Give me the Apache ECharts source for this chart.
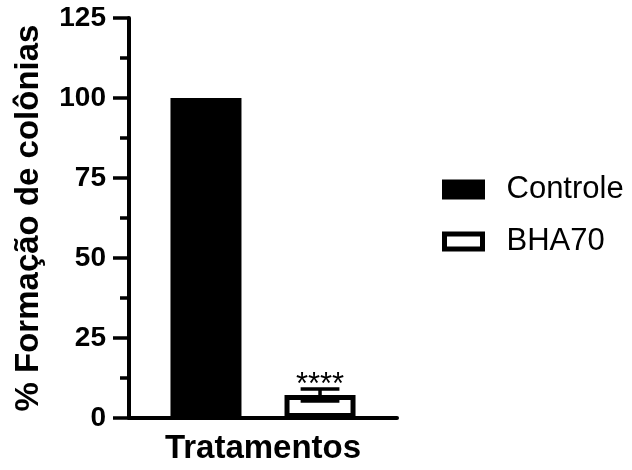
<!DOCTYPE html>
<html>
<head>
<meta charset="utf-8">
<script src="https://cdn.jsdelivr.net/npm/echarts@6/dist/echarts.min.js"></script>
<style>html,body{margin:0;padding:0;background:#fff;}#c{width:632px;height:470px;}</style>
</head>
<body>
<div id="c"></div>
<script>
// Data
var categories = ['Controle', 'BHA70'];
var means = [100, 7.2];
var errors = [0, 1.9];
var significance = ['', '****'];
var yTicks = [0, 25, 50, 75, 100, 125];
var yTitle = '% Formação de colônias';
var xTitle = 'Tratamentos';

var chart = echarts.init(document.getElementById('c'));
var fontFam = 'Liberation Sans, Arial, sans-serif';

var barSeries = categories.map(function (name, i) {
  return {
    name: name,
    type: 'bar',
    data: [[i, means[i]]],
    barWidth: 71,
    barGap: '-100%',
    itemStyle: { color: i === 0 ? '#000' : '#fff', borderColor: '#000', borderWidth: 5 },
    z: 2
  };
});

var errData = categories.map(function (name, i) { return [i, means[i], errors[i], significance[i]]; })
  .filter(function (d) { return d[2] > 0; });

var errSeries = {
  type: 'custom',
  data: errData,
  z: 5,
  renderItem: function (params, api) {
    var x = api.value(0), m = api.value(1), e = api.value(2);
    var star = errData[params.dataIndex][3];
    var top = api.coord([x, m + e]);
    var bot = api.coord([x, m - e]);
    var hw = api.size([1, 0])[0] * 0.17;
    var ls = { stroke: '#000', lineWidth: 3.5 };
    return {
      type: 'group',
      children: [
        { type: 'line', shape: { x1: top[0], y1: top[1], x2: bot[0], y2: bot[1] }, style: ls },
        { type: 'line', shape: { x1: top[0] - hw, y1: top[1], x2: top[0] + hw, y2: top[1] }, style: ls },
        { type: 'line', shape: { x1: bot[0] - hw, y1: bot[1], x2: bot[0] + hw, y2: bot[1] }, style: ls },
        { type: 'text', style: { text: star, x: top[0], y: top[1] + 12, align: 'center', verticalAlign: 'bottom', fontSize: 31, fontFamily: fontFam, fill: '#000' } }
      ]
    };
  }
};

chart.setOption({
  backgroundColor: '#fff',
  animation: false,
  textStyle: { fontFamily: fontFam },
  grid: { left: 129, right: 235, top: 18, bottom: 49, containLabel: false },
  legend: {
    data: categories,
    orient: 'vertical',
    left: 437,
    top: 169,
    icon: 'rect',
    itemWidth: 38,
    itemHeight: 15,
    itemGap: 21,
    itemStyle: { borderWidth: 5, borderColor: '#000' },
    textStyle: { fontSize: 31, color: '#000', fontFamily: fontFam, lineHeight: 31, padding: [0, 0, 0, 19] }
  },
  xAxis: {
    type: 'value',
    min: -0.675,
    max: 1.675,
    name: xTitle,
    nameLocation: 'middle',
    nameGap: 14,
    nameTextStyle: { fontSize: 33, fontWeight: 'bold', color: '#000', fontFamily: fontFam },
    axisLine: { show: true, onZero: false, lineStyle: { color: '#000', width: 4 } },
    axisTick: { show: false },
    axisLabel: { show: false },
    splitLine: { show: false }
  },
  yAxis: {
    type: 'value',
    min: yTicks[0],
    max: yTicks[yTicks.length - 1],
    interval: 25,
    name: yTitle,
    nameLocation: 'middle',
    nameGap: 84,
    nameTextStyle: { fontSize: 33, fontWeight: 'bold', color: '#000', fontFamily: fontFam },
    axisLine: { show: true, onZero: false, lineStyle: { color: '#000', width: 4 } },
    axisTick: { show: true, inside: false, length: 16, lineStyle: { color: '#000', width: 3.5 } },
    minorTick: { show: true, splitNumber: 2, length: 9, lineStyle: { color: '#000', width: 3.5 } },
    axisLabel: { fontSize: 28, fontWeight: 'bold', color: '#000', margin: 23, fontFamily: fontFam },
    splitLine: { show: false }
  },
  series: barSeries.concat([errSeries])
});
</script>
</body>
</html>
